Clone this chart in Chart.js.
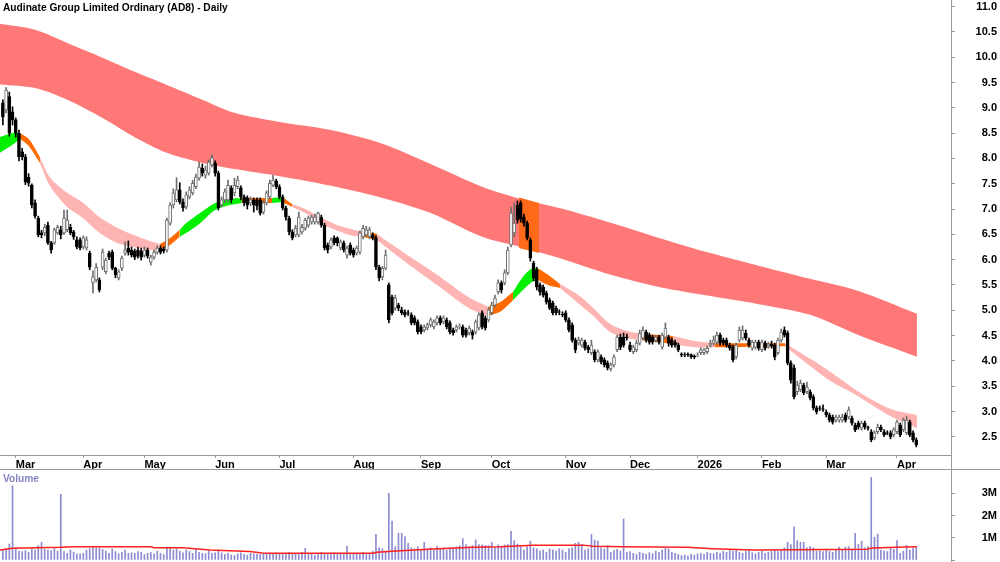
<!DOCTYPE html>
<html>
<head>
<meta charset="utf-8">
<script src="https://cdn.jsdelivr.net/npm/chart.js@4.4.1/dist/chart.umd.min.js"></script>
<style>
  body { margin: 0; background: #fff; width: 1000px; height: 562px; overflow: hidden; position: relative;
         font-family: "Liberation Sans", Arial, sans-serif; }
  #priceChart { position: absolute; left: 0; top: 0; }
  #volChart { position: absolute; left: 0; top: 469px; }
  .title { position: absolute; left: 3px; top: 2px; font-size: 10.2px; font-weight: bold; color: #000; }
  .vtitle { position: absolute; left: 3px; top: 473px; font-size: 10.2px; font-weight: bold; color: #8484c4; }
  .hline { position: absolute; left: 0; top: 469px; width: 1000px; height: 1px; background: #999; }
  .vline { position: absolute; left: 951px; top: 0; width: 1px; height: 562px; background: #999; }
</style>
</head>
<body>
<canvas id="priceChart" width="1000" height="469"></canvas>
<canvas id="volChart" width="1000" height="93"></canvas>
<div class="hline"></div>
<div class="vline"></div>
<div class="title">Audinate Group Limited Ordinary (AD8) - Daily</div>
<div class="vtitle">Volume</div>
<script>
// daily candles, first bar 25 Feb 2025
const open = [
  9.10,8.96,9.22,8.92,8.76,8.50,8.13,8.03,7.63,7.47, 7.12,6.82,6.53,6.53,6.68,6.33,6.33,6.53,6.59,6.53,
  6.59,6.64,6.55,6.39,6.39,6.25,6.23,6.13,5.54,5.60, 5.60,5.85,5.76,6.13,6.15,5.83,5.64,5.83,6.13,6.23,
  6.19,6.17,6.19,6.17,6.09,6.19,5.95,6.05,6.15,6.23, 6.21,6.19,6.72,7.08,7.18,7.38,7.14,7.04,
  7.24,7.32,7.44,7.61,7.81,7.67,7.71,7.87,7.91,7.71, 7.08,7.18,7.18,7.42,7.32,7.44,7.42,7.24,7.22,7.12,
  7.18,7.18,7.18,6.94,7.12,7.24,7.47,7.55,7.44,7.24, 7.02,6.82,6.55,6.49,6.49,6.55,6.62,6.68,6.74,6.74,
  6.74,6.84,6.68,6.29,6.25,6.43,6.43,6.23,6.33,6.09, 6.29,6.19,6.13,6.15,6.45,6.49,6.45,6.49,
  6.43,5.85,5.66,5.83,5.50,5.26,5.04,5.10,5.01,4.97, 4.95,4.91,4.85,4.77,4.67,4.61,4.65,4.71,4.67,4.75,
  4.85,4.77,4.81,4.75,4.61,4.61,4.67,4.67,4.61,4.55, 4.57,4.57,4.65,4.95,4.85,4.81,4.95,5.10,5.36,5.54,
  5.54,5.74,6.29,6.53,7.08,7.12,6.84,6.72,6.39,5.93, 5.80,5.50,5.46,5.34,5.20,5.14,5.04,
  4.97,4.92,4.95,4.81,4.71,4.41,4.35,4.31,4.37,4.27, 4.16,4.18,4.02,4.08,4.02,3.96,3.84,3.92,4.22,4.47,
  4.47,4.47,4.31,4.18,4.22,4.35,4.45,4.57,4.51,4.47, 4.41,4.47,4.27,4.47,4.47,4.41,4.37,4.31,4.13,4.12,
  4.13,4.12,4.09,4.11,4.16,4.16,4.18,4.31,4.35,4.37, 4.51,4.41,4.41,4.31,4.27,4.08,4.41,4.45,
  4.55,4.41,4.25,4.27,4.37,4.22,4.35,4.29,4.33,4.31, 4.16,4.41,4.61,4.55,3.96,3.86,3.39,3.43,3.52,3.39,
  3.39,3.29,3.07,3.07,3.05,2.99,2.93,2.89,2.83,2.83, 2.83,2.93,2.89,2.87,2.73,2.77,2.67,2.77,2.68,2.60,
  2.48,2.60,2.69,2.60,2.58,2.58,2.54,2.60,2.73,2.64, 2.58,2.79,2.58,2.44
];
const high = [
  9.16,9.40,9.31,9.02,8.80,8.56,8.20,8.08,7.70,7.50, 7.18,6.86,6.58,6.70,6.74,6.36,6.62,6.68,6.66,6.98,
  6.98,6.70,6.58,6.45,6.43,6.47,6.45,6.17,5.78,5.92, 5.64,6.21,6.03,6.17,6.19,5.85,5.80,6.07,6.35,6.37,
  6.25,6.21,6.25,6.23,6.25,6.23,6.09,6.19,6.27,6.27, 6.25,6.82,7.12,7.40,7.62,7.52,7.20,7.34,
  7.44,7.57,7.69,7.93,7.89,7.85,7.97,8.07,7.95,7.75, 7.24,7.40,7.57,7.46,7.61,7.65,7.46,7.28,7.26,7.24,
  7.22,7.22,7.22,7.16,7.36,7.57,7.67,7.59,7.48,7.28, 7.06,6.86,6.59,6.68,6.94,6.70,6.82,6.86,6.88,6.90,
  6.94,6.88,6.72,6.33,6.43,6.47,6.45,6.39,6.37,6.27, 6.33,6.23,6.27,6.57,6.68,6.66,6.64,6.53,
  6.47,5.89,5.87,6.19,5.54,5.30,5.30,5.14,5.06,5.01, 5.00,4.95,4.89,4.81,4.71,4.71,4.75,4.85,4.81,4.89,
  4.89,4.89,4.85,4.79,4.65,4.71,4.73,4.71,4.65,4.69, 4.61,4.81,4.95,4.99,4.89,5.05,5.16,5.30,5.60,5.58,
  5.80,6.25,7.04,7.12,7.16,7.16,6.90,6.76,6.43,5.97, 5.85,5.54,5.50,5.38,5.24,5.18,5.08,
  5.01,4.97,4.99,4.85,4.75,4.45,4.47,4.45,4.41,4.31, 4.41,4.22,4.22,4.12,4.06,4.00,3.96,4.12,4.51,4.53,
  4.55,4.53,4.37,4.31,4.41,4.61,4.67,4.61,4.55,4.51, 4.51,4.51,4.55,4.75,4.51,4.45,4.41,4.35,4.16,4.16,
  4.16,4.14,4.12,4.16,4.26,4.25,4.29,4.41,4.49,4.57, 4.55,4.45,4.45,4.35,4.31,4.35,4.67,4.69,
  4.61,4.45,4.41,4.41,4.41,4.41,4.39,4.37,4.39,4.35, 4.45,4.63,4.67,4.59,4.00,3.92,3.60,3.62,3.56,3.58,
  3.43,3.33,3.11,3.11,3.13,3.03,2.97,2.93,2.93,2.93, 2.95,2.97,3.09,2.91,2.77,2.81,2.81,2.81,2.71,2.64,
  2.62,2.75,2.73,2.64,2.62,2.62,2.68,2.83,2.77,2.87, 2.91,2.83,2.62,2.48
];
const low = [
  8.66,8.90,8.44,8.66,8.42,7.95,7.97,7.48,7.45,7.02, 6.82,6.45,6.43,6.47,6.30,6.13,6.30,6.50,6.41,6.50,
  6.55,6.49,6.40,6.21,6.19,6.21,6.19,5.80,5.34,5.56, 5.36,5.80,5.72,6.00,5.80,5.64,5.60,5.78,6.09,6.09,
  6.05,6.00,6.03,5.99,6.05,6.03,5.89,6.01,6.11,6.11, 6.13,6.15,6.68,7.02,7.14,7.10,6.96,7.00,
  7.20,7.28,7.40,7.57,7.65,7.61,7.67,7.83,7.65,6.98, 7.04,7.12,7.14,7.12,7.26,7.40,7.18,7.06,7.00,7.06,
  6.94,6.98,6.88,6.90,7.08,7.20,7.44,7.40,7.20,6.98, 6.78,6.49,6.39,6.45,6.45,6.51,6.58,6.64,6.70,6.70,
  6.70,6.64,6.19,6.13,6.21,6.29,6.27,6.19,6.15,6.03, 6.09,6.05,6.09,6.11,6.41,6.45,6.41,6.39,
  5.80,5.58,5.60,5.80,4.75,4.91,5.00,4.99,4.91,4.87, 4.90,4.71,4.71,4.53,4.53,4.57,4.61,4.67,4.63,4.71,
  4.71,4.73,4.63,4.53,4.51,4.57,4.63,4.47,4.47,4.51, 4.43,4.53,4.61,4.63,4.61,4.77,4.91,5.06,5.32,5.34,
  5.50,5.70,6.25,6.45,6.72,6.74,6.66,6.39,5.97,5.58, 5.40,5.30,5.26,5.12,5.01,4.91,4.91,
  4.91,4.87,4.77,4.57,4.37,4.16,4.31,4.27,4.21,4.16, 4.12,3.98,3.98,3.94,3.88,3.82,3.80,3.88,4.18,4.22,
  4.27,4.41,4.18,4.14,4.18,4.31,4.41,4.37,4.33,4.33, 4.37,4.33,4.23,4.43,4.29,4.27,4.27,4.18,4.08,4.08,
  4.09,4.05,4.04,4.08,4.12,4.12,4.14,4.27,4.31,4.33, 4.31,4.31,4.27,4.21,3.98,4.04,4.37,4.41,
  4.41,4.27,4.21,4.23,4.21,4.18,4.21,4.25,4.25,4.02, 4.12,4.37,4.47,3.92,3.56,3.25,3.33,3.39,3.33,3.35,
  3.23,3.03,2.95,3.02,3.00,2.89,2.79,2.75,2.79,2.79, 2.79,2.79,2.85,2.73,2.60,2.65,2.63,2.65,2.63,2.40,
  2.44,2.56,2.60,2.50,2.54,2.46,2.50,2.56,2.50,2.60, 2.54,2.50,2.40,2.30
];
const close = [
  8.82,9.35,8.50,8.76,8.50,8.03,8.03,7.53,7.51,7.08, 6.86,6.49,6.49,6.64,6.33,6.19,6.59,6.64,6.49,6.82,
  6.78,6.53,6.45,6.25,6.23,6.43,6.39,5.85,5.66,5.85, 5.40,6.15,5.99,6.05,5.83,5.70,5.76,6.03,6.19,6.15,
  6.09,6.05,6.07,6.05,6.19,6.07,6.05,6.15,6.23,6.15, 6.17,6.78,7.08,7.32,7.38,7.14,7.02,7.28,
  7.38,7.51,7.63,7.83,7.71,7.77,7.93,8.01,7.71,7.02, 7.18,7.34,7.47,7.18,7.47,7.57,7.24,7.12,7.08,7.18,
  7.08,7.06,6.92,7.12,7.32,7.51,7.57,7.44,7.24,7.02, 6.84,6.55,6.43,6.62,6.84,6.64,6.78,6.82,6.84,6.84,
  6.92,6.68,6.23,6.19,6.39,6.33,6.33,6.35,6.19,6.23, 6.13,6.09,6.23,6.53,6.62,6.59,6.59,6.43,
  5.85,5.64,5.83,6.09,4.81,4.95,5.24,5.04,4.95,4.91, 4.94,4.75,4.75,4.57,4.57,4.67,4.71,4.81,4.77,4.85,
  4.75,4.85,4.67,4.57,4.55,4.67,4.68,4.51,4.51,4.65, 4.51,4.77,4.91,4.67,4.65,5.01,5.10,5.24,5.54,5.40,
  5.74,6.19,6.92,6.72,6.78,6.80,6.72,6.43,6.03,5.64, 5.46,5.36,5.30,5.16,5.04,4.95,4.95,
  4.96,4.91,4.81,4.61,4.41,4.22,4.41,4.41,4.25,4.22, 4.31,4.02,4.18,3.98,3.92,3.86,3.92,4.08,4.47,4.27,
  4.31,4.46,4.22,4.27,4.35,4.55,4.61,4.41,4.37,4.37, 4.47,4.37,4.51,4.65,4.35,4.31,4.31,4.22,4.12,4.11,
  4.12,4.08,4.08,4.12,4.22,4.22,4.25,4.35,4.41,4.51, 4.35,4.35,4.31,4.25,4.02,4.31,4.61,4.61,
  4.45,4.31,4.37,4.37,4.25,4.37,4.25,4.33,4.29,4.08, 4.41,4.57,4.51,3.96,3.62,3.29,3.52,3.56,3.37,3.48,
  3.27,3.07,2.99,3.06,3.04,2.93,2.83,2.79,2.89,2.89, 2.89,2.83,3.03,2.77,2.64,2.69,2.77,2.69,2.67,2.44,
  2.58,2.69,2.64,2.54,2.57,2.50,2.64,2.79,2.54,2.83, 2.83,2.54,2.44,2.34
];
// volume in millions of shares
const volume = [
  0.45,0.50,0.72,3.35,0.55,0.40,0.38,0.42,0.35,0.50, 0.45,0.65,0.80,0.48,0.45,0.42,0.52,0.40,2.96,0.38,
  0.30,0.45,0.36,0.28,0.28,0.30,0.45,0.52,0.62,0.55, 0.55,0.48,0.40,0.30,0.50,0.38,0.28,0.35,0.45,0.30,
  0.32,0.30,0.38,0.35,0.25,0.30,0.33,0.28,0.40,0.30, 0.25,0.58,0.58,0.45,0.50,0.40,0.32,0.45,0.38,0.30,
  0.48,0.35,0.30,0.28,0.40,0.30,0.32,0.45,0.32,0.25, 0.30,0.22,0.20,0.28,0.32,0.25,0.22,0.30,0.28,0.25,
  0.25,0.30,0.28,0.25,0.30,0.32,0.28,0.25,0.30,0.35, 0.28,0.30,0.25,0.35,0.52,0.25,0.30,0.22,0.28,0.35,
  0.30,0.25,0.28,0.32,0.25,0.30,0.28,0.63,0.25,0.28, 0.30,0.28,0.35,0.25,0.30,0.40,1.16,0.55,0.50,0.40,
  3.00,1.75,0.60,1.20,1.20,1.05,0.75,0.55,0.50,0.60, 0.45,0.80,0.50,0.55,0.45,0.60,0.50,0.55,0.45,0.50,
  0.55,0.60,0.65,0.96,0.70,0.60,0.65,0.90,0.70,0.68, 0.66,0.65,0.79,0.55,0.68,0.60,0.68,0.70,1.29,0.87,
  0.72,0.60,0.45,0.60,0.85,0.55,0.50,0.40,0.45,0.35, 0.50,0.45,0.40,0.50,0.45,0.35,0.50,0.55,0.75,0.80,
  0.70,0.45,0.50,1.15,0.90,0.85,0.55,0.50,0.66,0.35, 0.42,0.48,0.40,1.85,0.35,0.38,0.30,0.25,0.35,0.30,
  0.25,0.33,0.28,0.40,0.35,0.45,0.55,0.50,0.35,0.30, 0.25,0.20,0.22,0.18,0.25,0.22,0.28,0.30,0.25,0.35,
  0.30,0.28,0.35,0.30,0.40,0.35,0.45,0.40,0.45,0.35, 0.30,0.38,0.40,0.33,0.28,0.35,0.40,0.30,0.35,0.40,
  0.45,0.38,0.45,0.55,0.80,0.70,1.49,0.87,0.80,0.80, 0.55,0.60,0.55,0.40,0.42,0.38,0.45,0.40,0.35,0.42,
  0.58,0.45,0.58,0.60,0.50,1.20,0.70,0.85,0.55,0.60, 3.72,1.03,1.17,0.45,0.40,0.38,0.55,0.48,0.87,0.30,
  0.40,0.66,0.45,0.55,0.60
];

// long-term band (read at a few bars)
const longIdx   = [-1, 10, 20, 31, 41, 51, 62, 72, 86, 102, 118, 133, 149, 161, 173, 189, 204, 220, 235, 251, 266, 284.2];
const longUpper = [10.66, 10.54, 10.28, 9.99, 9.71, 9.45, 9.16, 8.90, 8.72, 8.56, 8.29, 7.89, 7.44, 7.20, 7.02, 6.73, 6.43, 6.13, 5.88, 5.62, 5.38, 4.93];
const longLower = [9.46, 9.39, 9.16, 8.80, 8.42, 8.11, 7.91, 7.79, 7.65, 7.46, 7.22, 6.92, 6.45, 6.25, 6.03, 5.70, 5.46, 5.28, 5.12, 4.91, 4.51, 4.08];
// orange patch on the long band in October
const crossIdx   = [160.5, 166.7];
const crossUpper = [7.23, 7.12];
const crossLower = [6.23, 6.13];

// short-term band, trend of the stretch after each point: u = rising, m = turning, d = falling
const shortIdx = [-1, 3, 5.3, 8, 11.5, 14.6, 20, 25, 30, 35.5, 40.5, 45.7, 48.8, 52, 55, 56.6, 61.3, 66, 70.6, 74.3,
  83.7, 86.8, 90, 94, 98, 103.3, 108.5, 111.7, 116.3, 124.4, 135, 145.2, 150.8, 154.6, 158.6, 161.7, 164.5, 166.4,
  169.5, 173.2, 178.5, 183.5, 188.8, 194.1, 198.7, 208.4, 215.2, 221.4, 243.2, 251.6, 257.8, 264, 270.2, 276.5, 284.2];
const shortUpper = [8.42, 8.50, 8.50, 8.39, 8.03, 7.63, 7.32, 7.12, 6.84, 6.63, 6.49, 6.37, 6.31, 6.43, 6.59, 6.70, 6.92, 7.12, 7.20, 7.22,
  7.22, 7.24, 7.10, 7.00, 6.86, 6.70, 6.60, 6.55, 6.51, 6.15, 5.70, 5.24, 5.07, 5.16, 5.36, 5.66, 5.83, 5.83,
  5.70, 5.52, 5.32, 5.05, 4.73, 4.59, 4.53, 4.49, 4.39, 4.35, 4.35, 4.02, 3.76, 3.48, 3.23, 3.04, 2.93];
const shortLower = [8.11, 8.27, 8.39, 8.25, 7.91, 7.46, 7.04, 6.82, 6.53, 6.33, 6.25, 6.19, 6.19, 6.29, 6.45, 6.51, 6.72, 6.98, 7.08, 7.12,
  7.12, 7.14, 7.04, 6.92, 6.74, 6.59, 6.47, 6.45, 6.39, 5.99, 5.50, 5.03, 4.89, 4.97, 5.20, 5.40, 5.56, 5.60,
  5.50, 5.44, 5.16, 4.89, 4.57, 4.45, 4.41, 4.33, 4.27, 4.27, 4.29, 3.87, 3.58, 3.37, 3.13, 2.89, 2.67];
const shortTrend = ['u','u','m','m','d','d','d','d','d','d','d','d','m','m','u','u','u','u','u','m',
  'u','m','d','d','d','d','d','m','d','d','d','d','m','m','u','u','u','m',
  'm','d','d','d','d','d','m','d','d','m','d','d','d','d','d','d','d'];

// volume moving average (read at a few bars)
const volAvgIdx = [-1, 3, 18, 22, 46, 47, 56, 64.4, 76.8, 80.6, 83, 115, 116.3, 123.5, 133.7, 146.2, 154.6, 164.8, 180.4, 183.5, 192.8, 212.7, 220.8, 233.2, 268.7, 270.2, 278, 284.2];
const volAvg    = [0.45, 0.53, 0.57, 0.60, 0.60, 0.55, 0.55, 0.45, 0.38, 0.32, 0.30, 0.30, 0.35, 0.42, 0.50, 0.57, 0.60, 0.67, 0.67, 0.62, 0.60, 0.57, 0.51, 0.45, 0.48, 0.54, 0.57, 0.60];

const holidays = ['2025-04-18','2025-04-21','2025-04-25','2025-06-09','2025-12-25','2025-12-26',
  '2026-01-01','2026-01-26','2026-04-03','2026-04-06'];
const monthNames = ['Jan','Feb','Mar','Apr','May','Jun','Jul','Aug','Sep','Oct','Nov','Dec'];

// trading days -> month ticks
const dates = [];
const day = new Date(Date.UTC(2025, 1, 25));
while (dates.length < close.length) {
  const iso = day.toISOString().slice(0, 10);
  const wd = day.getUTCDay();
  if (wd !== 0 && wd !== 6 && !holidays.includes(iso)) dates.push(iso);
  day.setUTCDate(day.getUTCDate() + 1);
}
const monthTicks = {};
dates.forEach((d, i) => {
  if (i > 0 && d.slice(0, 7) !== dates[i - 1].slice(0, 7)) {
    const m = +d.slice(5, 7) - 1;
    monthTicks[i] = m === 0 ? d.slice(0, 4) : monthNames[m];
  }
});

const FONT = '"Liberation Sans", Arial, sans-serif';
const X_MIN = -0.9, X_MAX = 294.8;
const UP_EDGE = '#6e6e6e';
const trendColor = { u: '#00f000', m: '#ff6a00', d: '#ffb4b4' };

const pts = (xs, ys) => xs.map((x, k) => ({ x, y: ys[k] }));
const band = (data, fill, color, order) => ({
  type: 'line', data, fill, backgroundColor: color || 'transparent', borderWidth: 0,
  pointRadius: 0, tension: 0.3, order
});
// keep the value axes from reserving room for half a label
const noPad = sc => { sc.paddingTop = 0; sc.paddingBottom = 0; };

const datasets = [];
datasets.push(band(pts(longIdx, longUpper), false, null, 20));
datasets.push(band(pts(longIdx, longLower), '-1', '#ff7878', 20));
datasets.push(band(pts(crossIdx, crossUpper), false, null, 19));
datasets.push(band(pts(crossIdx, crossLower), '-1', '#ff6a1a', 19));

let s = 0;
for (let k = 1; k < shortIdx.length; k++) {
  if (k === shortIdx.length - 1 || shortTrend[k] !== shortTrend[s]) {
    const xs = shortIdx.slice(s, k + 1);
    datasets.push(band(pts(xs, shortUpper.slice(s, k + 1)), false, null, 10));
    datasets.push(band(pts(xs, shortLower.slice(s, k + 1)), '-1', trendColor[shortTrend[s]], 10));
    s = k;
  }
}

const isUp = close.map((c, i) => c >= open[i]);
datasets.push({
  type: 'bar', grouped: false, order: 2, barThickness: 1,
  data: close.map((_, i) => ({ x: i, y: [low[i], high[i]] })),
  backgroundColor: isUp.map(u => u ? UP_EDGE : '#000'), borderWidth: 0
});
datasets.push({
  type: 'bar', grouped: false, order: 1, barThickness: 3, borderSkipped: false,
  data: close.map((c, i) => ({ x: i, y: [open[i], c] })),
  backgroundColor: isUp.map(u => u ? '#fff' : '#000'),
  borderColor: isUp.map(u => u ? UP_EDGE : '#000'), borderWidth: 1
});

const tickFont = { family: FONT, size: 11, weight: 'bold' };

new Chart(document.getElementById('priceChart'), {
  type: 'bar',
  data: { datasets },
  options: {
    responsive: false, animation: false,
    layout: { padding: { left: 0, right: 3, top: 0, bottom: 0 } },
    plugins: { legend: { display: false }, tooltip: { enabled: false } },
    scales: {
      x: {
        type: 'linear', min: X_MIN, max: X_MAX, offset: false,
        afterBuildTicks: sc => { sc.ticks = Object.keys(monthTicks).map(i => ({ value: +i })); },
        afterFit: sc => { sc.height = 14; sc.paddingLeft = 0; sc.paddingRight = 0; },
        ticks: { autoSkip: false, maxRotation: 0, align: 'start', padding: 0, color: '#000', font: tickFont,
                 callback: v => monthTicks[v] },
        grid: { offset: false, drawOnChartArea: false, tickLength: 3, color: '#999' },
        border: { color: '#999', width: 1 }
      },
      y: {
        position: 'right', min: 2.14, max: 11.13,
        afterFit: sc => { sc.width = 46; noPad(sc); },
        ticks: { stepSize: 0.5, includeBounds: false, crossAlign: 'far', color: '#000', font: tickFont,
                 callback: v => v.toFixed(1) },
        grid: { drawOnChartArea: false, tickLength: 4, color: '#999' },
        border: { display: false }
      }
    }
  }
});

new Chart(document.getElementById('volChart'), {
  type: 'bar',
  data: {
    datasets: [
      {
        type: 'line', order: 1, data: pts(volAvgIdx, volAvg), borderColor: '#ff2020', borderWidth: 1.5,
        pointRadius: 0, tension: 0, fill: false
      },
      {
        type: 'bar', order: 2, barThickness: 1, data: volume.map((v, i) => ({ x: i, y: v })),
        backgroundColor: '#8c8cd2', borderWidth: 0
      }
    ]
  },
  options: {
    responsive: false, animation: false,
    layout: { padding: { left: 0, right: 3, top: 0, bottom: 2 } },
    plugins: { legend: { display: false }, tooltip: { enabled: false } },
    scales: {
      x: { type: 'linear', min: X_MIN, max: X_MAX, offset: false, display: false },
      y: {
        position: 'right', min: 0, max: 4.1,
        afterFit: sc => { sc.width = 46; noPad(sc); },
        afterBuildTicks: sc => { sc.ticks = [0, 1, 2, 3].map(v => ({ value: v })); },
        ticks: { crossAlign: 'far', color: '#000', font: tickFont, callback: v => v > 0 ? v + 'M' : '' },
        grid: { drawOnChartArea: false, tickLength: 4, color: '#999' },
        border: { display: false }
      }
    }
  }
});
</script>
</body>
</html>
